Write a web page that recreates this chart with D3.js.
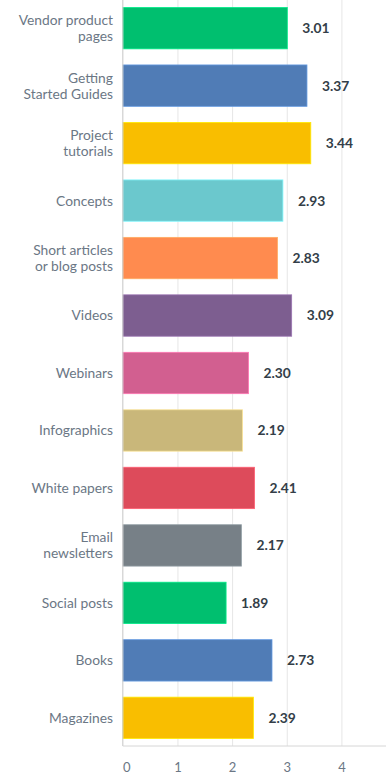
<!DOCTYPE html>
<html><head><meta charset="utf-8">
<script src="https://cdn.jsdelivr.net/npm/d3@7"></script>
<style>
html,body{margin:0;padding:0;background:#fff;}
svg{display:block;}
</style></head>
<body>
<svg id="chart" width="386" height="780"></svg>
<script>
const categories = [
  ["Vendor product","pages"],
  ["Getting","Started Guides"],
  ["Project","tutorials"],
  ["Concepts"],
  ["Short articles","or blog posts"],
  ["Videos"],
  ["Webinars"],
  ["Infographics"],
  ["White papers"],
  ["Email","newsletters"],
  ["Social posts"],
  ["Books"],
  ["Magazines"]
];
const values = [3.01, 3.37, 3.44, 2.93, 2.83, 3.09, 2.30, 2.19, 2.41, 2.17, 1.89, 2.73, 2.39];
const colors = ["#00bf6f","#507cb6","#f9be00","#6bc8cd","#ff8b4f","#7d5e90","#d25f90","#c9b77a","#dd4b5b","#778087","#00bf6f","#507cb6","#f9be00"];
const ticks = [0,1,2,3,4];

const svg = d3.select("#chart");
const font = "Lato, sans-serif";
const keys = categories.map((c,i)=>i);

const x = d3.scaleLinear().domain([0,4]).range([122.8, 341.4]);
const y = d3.scaleBand().domain(keys).range([0, 746]).paddingInner(0.28).paddingOuter(0.13);

// grid
svg.append("g").selectAll("line").data(ticks.slice(1)).join("line")
  .attr("x1", d=>x(d)+0.5).attr("x2", d=>x(d)+0.5)
  .attr("y1", 0).attr("y2", 746)
  .attr("stroke", "#e6e6e6").attr("stroke-width", 1);

// bars
svg.append("g").selectAll("rect").data(values).join("rect")
  .attr("x", x(0)).attr("y", (d,i)=>y(i))
  .attr("width", d=>x(d)-x(0)).attr("height", y.bandwidth())
  .attr("fill", (d,i)=>colors[i])
  .attr("stroke", (d,i)=>d3.color(colors[i]).brighter(0.6)).attr("stroke-width", 0.8);

// axes lines
svg.append("line").attr("x1", x(0)).attr("x2", x(0)).attr("y1", 0).attr("y2", 746)
  .attr("stroke", "#cfcfcf").attr("stroke-width", 1.2);
svg.append("line").attr("x1", x(0)).attr("x2", 386).attr("y1", 746).attr("y2", 746)
  .attr("stroke", "#d6d6d6").attr("stroke-width", 1);

// x tick labels
const xAxis = d3.axisBottom(x).tickValues(ticks).tickSize(0).tickPadding(0).tickFormat(d3.format("d"));
const gx = svg.append("g").attr("transform", "translate(0,771.5)").call(xAxis);
gx.select(".domain").remove();
gx.selectAll("text").attr("font-family", font).attr("font-size", 13).attr("fill", "#6b7785")
  .attr("y", 0).attr("dy", 0).attr("dx", (d)=> d===0 ? 3.5 : 0);

// value labels
svg.append("g").selectAll("text").data(values).join("text")
  .attr("x", d=>x(d)+15).attr("y", (d,i)=>y(i)+y.bandwidth()/2)
  .attr("dy", "0.36em")
  .attr("font-family", font).attr("font-size", 13.8).attr("font-weight", 700)
  .attr("fill", "#333e48")
  .text(d=>d.toFixed(2));

// category labels
const lab = svg.append("g").selectAll("text").data(categories).join("text")
  .attr("text-anchor", "end")
  .attr("font-family", font).attr("font-size", 13.8).attr("fill", "#6b7785");
lab.each(function(lines, i){
  const t = d3.select(this);
  const cy = y(i) + y.bandwidth()/2;
  const lh = 16;
  lines.forEach((ln, j)=>{
    t.append("tspan").attr("x", 113)
      .attr("y", cy + (j - (lines.length-1)/2)*lh)
      .attr("dy", "0.36em").text(ln);
  });
});
</script>
</body></html>
